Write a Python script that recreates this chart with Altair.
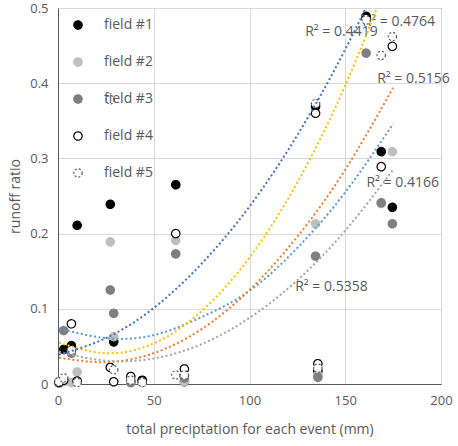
import altair as alt
import pandas as pd

# event precipitation (mm)
events_x = [0.5, 3, 7, 10, 27.3, 29.1, 38, 44, 61.5, 66, 134.5, 135.7, 160.9, 168.8, 174.6]
field1 = [0.002, 0.046, 0.051, 0.211, 0.239, 0.056, 0.003, 0.005, 0.265, 0.003, 0.369, 0.017, 0.489, 0.309, 0.235]
field2 = [0.001, 0.003, 0.002, 0.016, 0.189, 0.063, 0.002, 0.002, 0.191, 0.003, 0.213, 0.012, 0.485, 0.240, 0.309]
field3 = [0.003, 0.071, 0.041, 0.003, 0.125, 0.094, 0.002, 0.003, 0.173, 0.008, 0.170, 0.009, 0.440, 0.241, 0.213]
field4 = [0.002, 0.005, 0.080, 0.004, 0.022, 0.003, 0.010, 0.004, 0.200, 0.020, 0.360, 0.027, 0.486, 0.289, 0.449]
field5 = [0.003, 0.008, 0.045, 0.002, 0.378, 0.019, 0.005, 0.002, 0.012, 0.012, 0.373, 0.021, 0.484, 0.437, 0.462]

field_names = ["field #1", "field #2", "field #3", "field #4", "field #5"]
fill_colors = ["#000000", "#BFBFBF", "#7F7F7F", "#FFFFFF", "#FFFFFF"]
stroke_colors = ["#000000", "#BFBFBF", "#7F7F7F", "#000000", "#595959"]
dashes = [[1, 0], [1, 0], [1, 0], [1, 0], [2, 2]]

# polynomial trendlines, values
trend_x = [0.5, 25, 50, 75, 100, 125, 150, 175]
trend1 = [0.074, 0.061, 0.065, 0.089, 0.124, 0.181, 0.255, 0.346]   # light blue
trend2 = [0.035, 0.029, 0.041, 0.073, 0.125, 0.196, 0.285, 0.394]   # orange
trend3 = [0.043, 0.031, 0.034, 0.053, 0.088, 0.138, 0.204, 0.285]   # grey
trend4 = [0.055, 0.041, 0.054, 0.097, 0.168, 0.268, 0.397, 0.555]   # yellow
trend5 = [0.039, 0.061, 0.101, 0.160, 0.236, 0.331, 0.445, 0.576]   # dark blue
trend_colors = ["#5B9BD5", "#ED7D31", "#A5A5A5", "#FFC000", "#4472C4"]

r2_text = ["R² = 0.4419", "R² = 0.5156", "R² = 0.5358", "R² = 0.4764", "R² = 0.4166"]
r2_x = [148, 185.6, 142.8, 178, 180]
r2_y = [0.468, 0.406, 0.129, 0.481, 0.267]

y_ticks = [0, 0.05, 0.1, 0.15, 0.2, 0.25, 0.3, 0.35, 0.4, 0.45, 0.5]
x_ticks = [0, 50, 100, 150, 200]

rows = []
for name, vals in zip(field_names, [field1, field2, field3, field4, field5]):
    for xv, yv in zip(events_x, vals):
        rows.append({"field": name, "x": xv, "y": yv})
df = pd.DataFrame(rows)

trows = []
for i, vals in enumerate([trend1, trend2, trend3, trend4, trend5]):
    for xv, yv in zip(trend_x, vals):
        trows.append({"trend": f"t{i+1}", "x": xv, "y": yv})
tdf = pd.DataFrame(trows)

lab = pd.DataFrame({"t": r2_text, "x": r2_x, "y": r2_y})

FONT = "Open Sans"
GREY = "#595959"

xs = alt.Scale(domain=[0, 200], nice=False)
ys = alt.Scale(domain=[0, 0.5], nice=False)

labels = alt.Chart(lab).mark_text(font=FONT, fontSize=14, color=GREY).encode(
    x=alt.X("x:Q", scale=xs, axis=alt.Axis(values=x_ticks, title="total preciptation for each event (mm)")),
    y=alt.Y("y:Q", scale=ys, axis=alt.Axis(values=y_ticks, format="~g", title="runoff ratio")),
    text="t:N",
)

points = alt.Chart(df).mark_point(shape="circle", size=70, strokeWidth=1.2, opacity=1, fillOpacity=1).encode(
    x=alt.X("x:Q", scale=xs),
    y=alt.Y("y:Q", scale=ys),
    fill=alt.Fill("field:N", scale=alt.Scale(domain=field_names, range=fill_colors)),
    stroke=alt.Stroke("field:N", scale=alt.Scale(domain=field_names, range=stroke_colors)),
    strokeDash=alt.StrokeDash("field:N", scale=alt.Scale(domain=field_names, range=dashes)),
    order=alt.Order("field:N"),
)

lines = []
for i, col in enumerate(trend_colors):
    ln = alt.Chart(tdf).transform_filter(alt.datum.trend == f"t{i+1}").mark_line(
        strokeWidth=2, strokeDash=[2, 2.5], clip=True, color=col, interpolate="natural"
    ).encode(x=alt.X("x:Q", scale=xs), y=alt.Y("y:Q", scale=ys))
    lines.append(ln)

chart = alt.layer(labels, points, *lines).properties(
    width=383, height=376,
    autosize=alt.AutoSizeParams(type="none"),
    padding={"left": 58, "top": 8, "right": 17, "bottom": 62},
).configure_view(stroke=GREY, strokeWidth=1).configure_axis(
    grid=True, gridColor="#D9D9D9", gridWidth=1, domainColor=GREY, ticks=False, labelFlush=False,
    labelFont=FONT, labelFontSize=13, labelColor=GREY, labelPadding=10,
    titleFont=FONT, titleFontSize=14, titleColor=GREY, titleFontWeight="normal",
).configure_axisY(titlePadding=7).configure_axisX(titlePadding=15).configure_legend(
    orient="none", legendX=13, legendY=10, title=None, symbolSize=70, symbolStrokeWidth=1.2,
    labelFont=FONT, labelFontSize=14, labelColor=GREY, labelOffset=19, rowPadding=23,
    symbolType="circle",
)

chart.save("out.html", embed_options={"renderer": "svg", "actions": False})
